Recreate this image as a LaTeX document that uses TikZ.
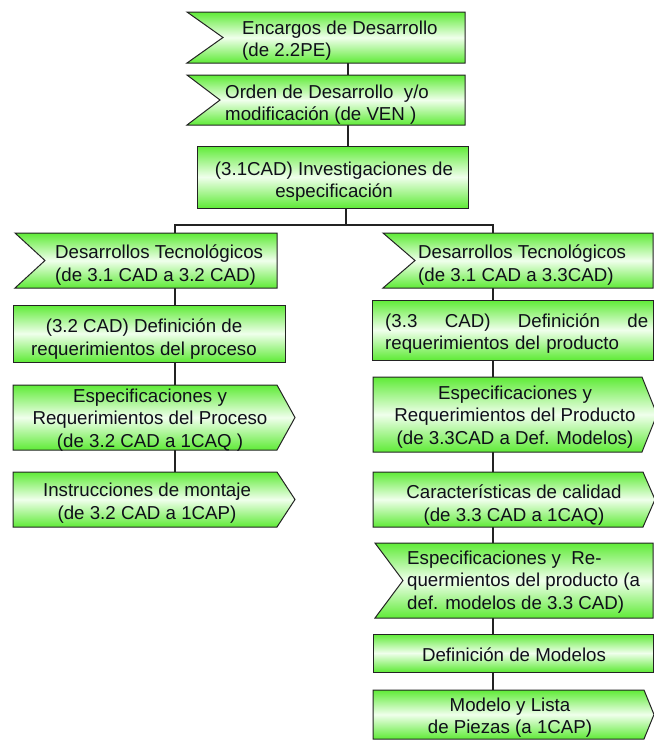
\documentclass[tikz,border=0pt]{standalone}
\usepackage{fontspec}
\setmainfont{Liberation Sans}
\usetikzlibrary{fit,backgrounds}

\definecolor{boxgreen}{RGB}{95,235,55}
\definecolor{boxlight}{RGB}{240,255,236}
\definecolor{inkline}{RGB}{35,35,35}
\definecolor{inktext}{RGB}{15,15,25}

\tikzset{
  panel/.style={draw=inkline, line width=1pt, line join=miter,
    top color=boxgreen, bottom color=boxgreen, middle color=boxlight},
  area/.style={inner sep=0pt, outer sep=0pt},
  txt/.style={inner sep=0pt, font=\fontsize{18.7}{22.5}\selectfont, text=inktext},
  link/.style={draw=inkline, line width=1.3pt},
}

% plain rectangular step: name, corner, corner
\newcommand\RectPanel[3]{%
  \node[area, fit={#2 #3}] (#1) {};
  \path[panel] (#1.north west) rectangle (#1.south east);}
% incoming document: notch cut into the left side
\newcommand\NotchPanel[4]{%
  \node[area, fit={#2 #3}] (#1) {};
  \path[panel] (#1.north west) -- (#1.north east) -- (#1.south east)
    -- (#1.south west) -- ([xshift=#4]#1.west) -- cycle;}
% outgoing document: point on the right side
\newcommand\ArrowPanel[4]{%
  \node[area, fit={#2 #3}] (#1) {};
  \path[panel] (#1.north west) -- (#1.north east) -- ([xshift=#4]#1.east)
    -- (#1.south east) -- (#1.south west) -- cycle;}

\begin{document}
\begin{tikzpicture}[x=1pt, y=-1pt]
\useasboundingbox (0,0) rectangle (654,740);

% ---- top chain ----
\NotchPanel{enc}{(187,12)}{(465,63)}{36}
\node[txt, anchor=west, align=left] (enc-t) at (242,40.5)
  {Encargos de Desarrollo\\(de 2.2PE)};

\NotchPanel{ord}{(187,75)}{(465,125)}{33}
\node[txt, anchor=west, align=left] (ord-t) at (225,104.5)
  {Orden de Desarrollo~ y/o\\modificación (de VEN )};

\RectPanel{inv}{(197,146)}{(468,208)}
\node[txt, align=center] (inv-t) at (334,181.5)
  {(3.1CAD) Investigaciones de\\especificación};

% ---- left branch ----
\NotchPanel{dtl}{(15,233)}{(277,288)}{30}
\node[txt, anchor=west, align=left] (dtl-t) at (55,265)
  {Desarrollos Tecnológicos\\(de 3.1 CAD a 3.2 CAD)};

\RectPanel{dpr}{(13,305)}{(285,362)}
\node[txt, align=center] (dpr-t) at (144,339)
  {(3.2 CAD) Definición de\\requerimientos del proceso};

\ArrowPanel{erp}{(13,385)}{(277,450)}{18}
\node[txt, align=center] (erp-t) at (150,420)
  {Especificaciones y\\Requerimientos del Proceso\\(de 3.2 CAD a 1CAQ )};

\ArrowPanel{ins}{(13,472)}{(277,527)}{18}
\node[txt, align=center] (ins-t) at (147,503)
  {Instrucciones de montaje\\(de 3.2 CAD a 1CAP)};

% ---- right branch ----
\NotchPanel{dtr}{(383,233)}{(653,288)}{32}
\node[txt, anchor=west, align=left] (dtr-t) at (418,265)
  {Desarrollos Tecnológicos\\(de 3.1 CAD a 3.3CAD)};

\RectPanel{dpd}{(372,300)}{(653,360)}
\node[txt, anchor=west, align=left, text width=263pt] (dpd-t) at (385,333.5)
  {(3.3\hfill CAD)\hfill Definición\hfill de\\requerimientos del producto};

\ArrowPanel{epd}{(373,377)}{(642,452)}{15}
\node[txt, align=center] (epd-t) at (515,417)
  {Especificaciones y\\Requerimientos del Producto\\(de 3.3CAD a Def. Modelos)};

\ArrowPanel{cal}{(373,472)}{(643,527)}{12}
\node[txt, align=center] (cal-t) at (514,505)
  {Características de calidad\\(de 3.3 CAD a 1CAQ)};

\NotchPanel{epm}{(375,543)}{(653,618)}{28}
\node[txt, anchor=west, align=left] (epm-t) at (407,582)
  {Especificaciones y~ Re-\\quermientos del producto (a\\def. modelos de 3.3 CAD)};

\RectPanel{mod}{(373,634)}{(653,672)}
\node[txt, align=center] (mod-t) at (514,655)
  {Definición de Modelos};

\ArrowPanel{mlp}{(373,690)}{(644,739)}{10}
\node[txt, align=center] (mlp-t) at (510,717.5)
  {Modelo y Lista\\de Piezas (a 1CAP)};

% ---- connectors ----
\coordinate (topspine) at (348,0);
\coordinate (midspine) at (346,0);
\coordinate (leftspine) at (175,0);
\coordinate (rightspine) at (493,0);
\coordinate (split) at (0,225);

\begin{scope}[on background layer]
  \draw[link] (enc.south -| topspine) -- (ord.north -| topspine);
  \draw[link] (ord.south -| topspine) -- (inv.north -| topspine);
  \draw[link] (inv.south -| midspine) -- (split -| midspine);
  \draw[link] (dtl.north -| leftspine) -- (split -| leftspine)
    -- (split -| rightspine) -- (dtr.north -| rightspine);
  \draw[link] (dtl.south -| leftspine) -- (dpr.north -| leftspine);
  \draw[link] (dpr.south -| leftspine) -- (erp.north -| leftspine);
  \draw[link] (erp.south -| leftspine) -- (ins.north -| leftspine);
  \draw[link] (dtr.south -| rightspine) -- (dpd.north -| rightspine);
  \draw[link] (dpd.south -| rightspine) -- (epd.north -| rightspine);
  \draw[link] (epd.south -| rightspine) -- (cal.north -| rightspine);
  \draw[link] (cal.south -| rightspine) -- (epm.north -| rightspine);
  \draw[link] (epm.south -| rightspine) -- (mod.north -| rightspine);
  \draw[link] (mod.south -| rightspine) -- (mlp.north -| rightspine);
\end{scope}
\end{tikzpicture}
\end{document}
